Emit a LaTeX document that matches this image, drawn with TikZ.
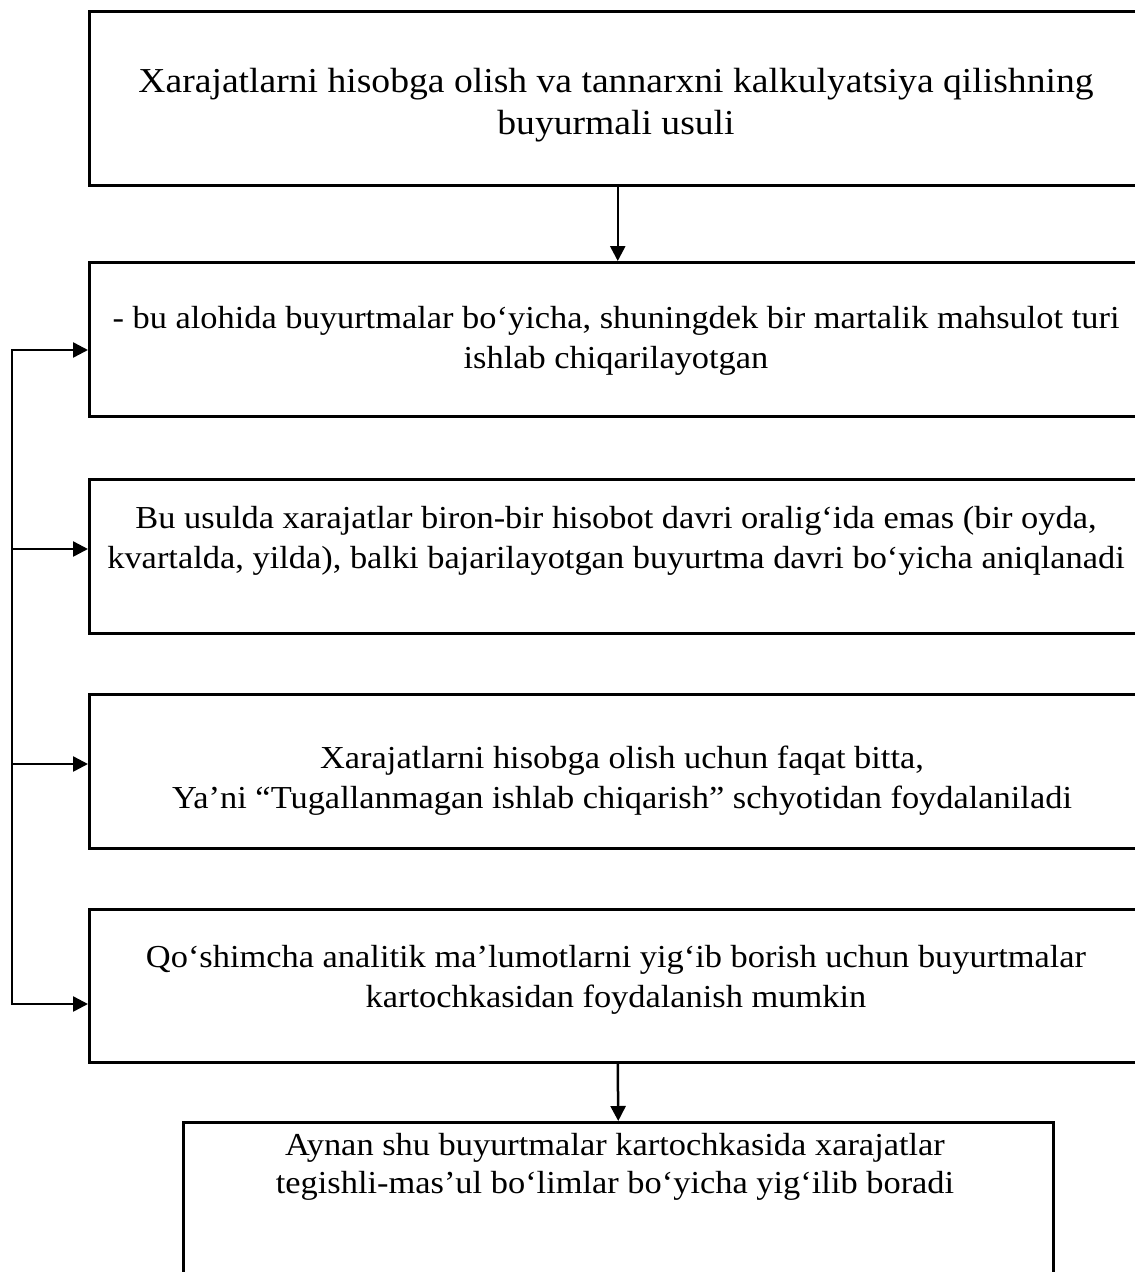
\documentclass[tikz,border=0pt]{standalone}
\usepackage{fontspec}
\setmainfont[FakeStretch=1.075]{Liberation Serif}
\usetikzlibrary{arrows.meta}
\begin{document}
\begin{tikzpicture}[x=1pt,y=-1pt,
  box/.style={draw, line width=2.5pt, rectangle, anchor=north west, inner sep=0pt},
  txt/.style={anchor=base, inner sep=0pt, font=\fontsize{32}{40}\selectfont},
  bigtxt/.style={txt, font=\fontsize{35}{42}\selectfont},
  conn/.style={line width=2.5pt},
  arr/.style={conn, -{Triangle[length=15pt,width=15pt]}}]
\useasboundingbox (0,0) rectangle (1135,1272);

% boxes (their right edges run past the page edge)
\node[box, minimum width=1057pt, minimum height=174pt] (b1) at (88,10) {};
\node[box, minimum width=1057pt, minimum height=154pt] (b2) at (88,261) {};
\node[box, minimum width=1057pt, minimum height=154pt] (b3) at (88,478) {};
\node[box, minimum width=1057pt, minimum height=154pt] (b4) at (88,693) {};
\node[box, minimum width=1057pt, minimum height=153pt] (b5) at (88,908) {};
\node[box, minimum width=870pt, minimum height=200pt] (b6) at (182,1121) {};

% texts
\node[bigtxt] (t1a) at (616,92) {Xarajatlarni hisobga olish va tannarxni kalkulyatsiya qilishning};
\node[bigtxt] (t1b) at (616,134) {buyurmali usuli};
\node[txt] (t2a) at (616,328) {- bu alohida buyurtmalar bo‘yicha, shuningdek bir martalik mahsulot turi};
\node[txt] (t2b) at (616,368) {ishlab chiqarilayotgan};
\node[txt] (t3a) at (616,528) {Bu usulda xarajatlar biron-bir hisobot davri oralig‘ida emas (bir oyda,};
\node[txt] (t3b) at (616,568) {kvartalda, yilda), balki bajarilayotgan buyurtma davri bo‘yicha aniqlanadi};
\node[txt] (t4a) at (622,768) {Xarajatlarni hisobga olish uchun faqat bitta,};
\node[txt] (t4b) at (622,808) {Ya’ni “Tugallanmagan ishlab chiqarish” schyotidan foydalaniladi};
\node[txt] (t5a) at (616,967) {Qo‘shimcha analitik ma’lumotlarni yig‘ib borish uchun buyurtmalar};
\node[txt] (t5b) at (616,1007) {kartochkasidan foydalanish mumkin};
\node[txt] (t6a) at (615,1155) {Aynan shu buyurtmalar kartochkasida xarajatlar};
\node[txt] (t6b) at (615,1193) {tegishli-mas’ul bo‘limlar bo‘yicha yig‘ilib boradi};

% vertical flow
\draw[arr] (b1.south) -- (b2.north);
\draw[arr] (b5.south) -- (b6.north);

% left bus feeding boxes 2-5
\coordinate (j2) at (12,350);
\coordinate (j3) at (12,549);
\coordinate (j4) at (12,764);
\coordinate (j5) at (12,1004);
\draw[conn, line cap=rect] (j2) -- (j5);
\draw[arr] (j2) -- (j2 -| b2.west);
\draw[arr] (j3) -- (j3 -| b3.west);
\draw[arr] (j4) -- (j4 -| b4.west);
\draw[arr] (j5) -- (j5 -| b5.west);
\end{tikzpicture}
\end{document}
